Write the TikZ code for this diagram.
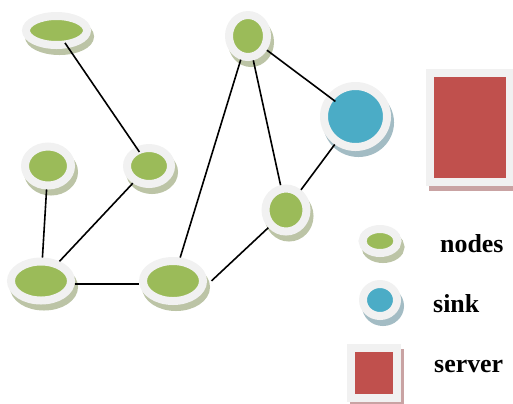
\documentclass[tikz,border=0pt]{standalone}
\usepackage{fontspec}
\setmainfont{Liberation Serif}
\usetikzlibrary{shapes.geometric,shadows}
\definecolor{halo}{HTML}{F1F1F1}
\definecolor{ngreen}{HTML}{9BBB59}
\definecolor{nblue}{HTML}{4BACC6}
\definecolor{nred}{HTML}{C0504D}
\definecolor{sgreen}{HTML}{BCC4A6}
\definecolor{sblue}{HTML}{A3BCC4}
\definecolor{sred}{HTML}{C9A3A3}
\tikzset{
  base/.style={draw=halo, line width=8bp, inner sep=0pt, outer sep=4bp},
  gnode/.style={base, ellipse, fill=ngreen,
    general shadow={shadow xshift=3bp, shadow yshift=-6bp, fill=sgreen, draw=sgreen, line width=8bp}},
  bnode/.style={base, ellipse, fill=nblue,
    general shadow={shadow xshift=3bp, shadow yshift=-6bp, fill=sblue, draw=sblue, line width=8bp}},
  rnode/.style={base, rectangle, fill=nred,
    general shadow={shadow xshift=3bp, shadow yshift=-5bp, fill=sred, draw=sred, line width=8bp}},
  sz/.style 2 args={minimum width=#1bp+8bp, minimum height=#2bp+8bp},
  link/.style={line width=1.6bp, black},
  lbl/.style={anchor=base west, inner sep=0pt, font=\fontsize{26}{30}\selectfont\bfseries}
}
\begin{document}
\begin{tikzpicture}[x=1bp,y=-1bp]
\useasboundingbox (0,0) rectangle (513,403);
\node[gnode, sz={53}{21}] (n1) at (56.5,30.5) {};
\node[gnode, sz={38}{31}] (n2) at (48,166) {};
\node[gnode, sz={36}{28}] (n3) at (149,166) {};
\node[gnode, sz={52}{31}] (n4) at (41,281) {};
\node[gnode, sz={52}{32}] (n5) at (173,281) {};
\node[gnode, sz={30}{34}] (n6) at (248,36) {};
\node[bnode, sz={55}{53}] (n7) at (355.5,116.5) {};
\node[gnode, sz={33}{35}] (n8) at (286,210) {};
\node[rnode, sz={72}{101}] (srv) at (470,127.5) {};
\node[gnode, sz={27}{16}] (lg1) at (380,241) {};
\node[bnode, sz={26}{24}] (lg2) at (380,300) {};
\node[rnode, sz={38}{42}] (lg3) at (374,373) {};
\node[lbl] (t1) at (440,252) {nodes};
\node[lbl] (t2) at (433,312) {sink};
\node[lbl] (t3) at (434,372) {server};
\draw[link, shorten <=-6bp, shorten >=-6bp] (n1) -- (n3);
\draw[link] (n2) -- (n4);
\draw[link] (n3) -- (n4);
\draw[link] ([yshift=-3bp]n4.east) -- ([yshift=-3bp]n5.west);
\draw[link] (n5) -- (n6);
\draw[link, shorten <=7bp] (n5.-8) -- (n8.225);
\draw[link] (n6) -- (n8);
\draw[link, shorten >=-10bp] (n6) -- (n7);
\draw[link] (n8) -- (n7);
\end{tikzpicture}
\end{document}
